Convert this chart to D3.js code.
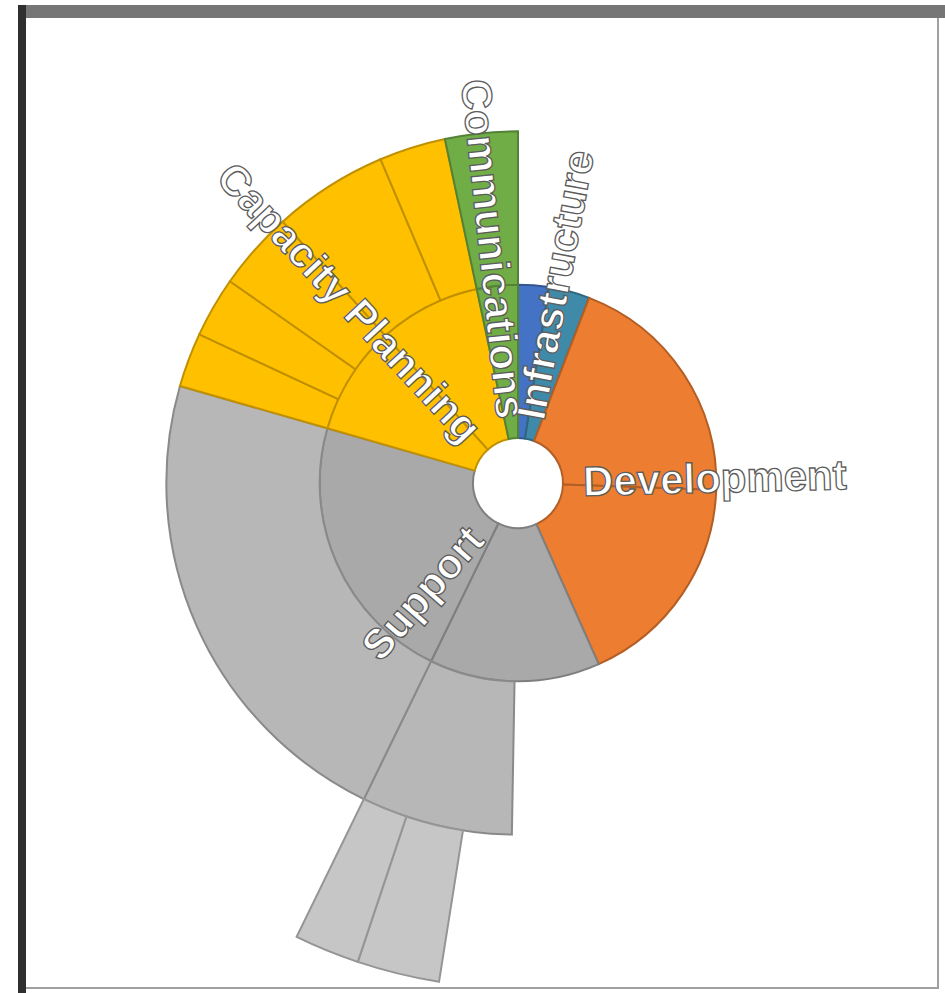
<!DOCTYPE html>
<html lang="en">
<head>
<meta charset="UTF-8">
<title>Sunburst</title>
<script src="https://d3js.org/d3.v7.min.js"></script>
<style>
  html, body { margin: 0; padding: 0; background: #fff; }
  svg { display: block; }
  .seg { stroke-width: 2px; }
  .label {
    font-family: "Liberation Sans", Arial, sans-serif;
    font-size: 42px; font-weight: bold;
    fill: #fff; stroke: #5c5c5c; stroke-width: 1.3px;
  }
</style>
</head>
<body>
<svg width="945" height="993"></svg>
<script>
// top-level groups, clockwise from 12 o'clock (angular share in degrees)
const groups = ["Infrastructure", "Development", "Support", "Capacity Planning", "Communications"];

// inner ring
const ring1 = [
  { id: "inf-a", parent: "Infrastructure", value: 9 },
  { id: "inf-b", parent: "Infrastructure", value: 12 },
  { id: "dev-a", parent: "Development", value: 71 },
  { id: "dev-b", parent: "Development", value: 64 },
  { id: "sup-a", parent: "Support" },
  { id: "sup-b", parent: "Support" },
  { id: "cap-a", parent: "Capacity Planning" },
  { id: "cap-b", parent: "Capacity Planning" },
  { id: "com-a", parent: "Communications" }
];

// middle ring (gap = empty slot)
const ring2 = [
  { id: "sup-a0", parent: "sup-a", value: 25, gap: true },
  { id: "sup-a1", parent: "sup-a" },
  { id: "sup-b1", parent: "sup-b", value: 80 },
  { id: "cap-a1", parent: "cap-a", value: 9 },
  { id: "cap-a2", parent: "cap-a", value: 10 },
  { id: "cap-a3", parent: "cap-a", value: 13 },
  { id: "cap-b1", parent: "cap-b", value: 19 },
  { id: "cap-b2", parent: "cap-b", value: 11 },
  { id: "com-a1", parent: "com-a", value: 12 }
];

// outer ring
const ring3 = [
  { id: "sup-a10", parent: "sup-a1", value: 8, gap: true },
  { id: "sup-a11", parent: "sup-a1", value: 9.5 },
  { id: "sup-a12", parent: "sup-a1", value: 7.5 }
];

// styles
const groupColor = {
  "Infrastructure": "#4472C4",
  "Development": "#ED7D31",
  "Support": "#A6A6A6",
  "Capacity Planning": "#FFC000",
  "Communications": "#70AD47"
};
const idColor = { "inf-b": "#3F8AA8" };
const supportShade = ["#A9A9A9", "#B7B7B7", "#C6C6C6"];

const svg = d3.select("svg");
const cx = 518, cy = 483;

// frame
svg.append("rect").attr("x", 22).attr("y", 10).attr("width", 916).attr("height", 978)
  .attr("fill", "#fff").attr("stroke", "#a0a0a0").attr("stroke-width", 2);
svg.append("rect").attr("x", 18).attr("y", 5).attr("width", 927).attr("height", 13).attr("fill", "#767676");
svg.append("rect").attr("x", 18).attr("y", 5).attr("width", 8).attr("height", 988).attr("fill", "#2f2f2f");

const rows = [{ id: "root" }]
  .concat(groups.map(g => ({ id: g, parent: "root" })))
  .concat(ring1, ring2, ring3);

const root = d3.stratify().id(d => d.id).parentId(d => d.parent)(rows)
  .sum(d => d.value || 0);

d3.partition().size([2 * Math.PI, root.height + 1])(root);

const radius = d3.scaleLinear().domain([2, 5]).range([45, 505]);

const arc = d3.arc()
  .startAngle(d => d.x0)
  .endAngle(d => d.x1)
  .innerRadius(d => radius(d.y0))
  .outerRadius(d => radius(d.y1));

function groupOf(d) { return d.ancestors().find(a => a.depth === 1).id; }
function fillOf(d) {
  if (idColor[d.id]) return idColor[d.id];
  const g = groupOf(d);
  if (g === "Support") return supportShade[d.depth - 2];
  return groupColor[g];
}

const g = svg.append("g").attr("transform", `translate(${cx},${cy})`);

g.selectAll("path")
  .data(root.descendants().filter(d => d.depth >= 2 && !d.data.gap))
  .join("path")
  .attr("class", "seg")
  .attr("d", arc)
  .attr("fill", d => fillOf(d))
  .attr("stroke", d => d3.color(fillOf(d)).darker(0.8));

// group labels, radial, from the hole outward
const labelStart = 65;
g.selectAll("text")
  .data(root.children)
  .join("text")
  .attr("class", "label")
  .attr("dy", "0.35em")
  .attr("transform", d => {
    const deg = (d.x0 + d.x1) / 2 * 180 / Math.PI;
    return deg > 180
      ? `rotate(${deg - 90}) translate(${labelStart},0) rotate(180)`
      : `rotate(${deg - 90}) translate(${labelStart},0)`;
  })
  .attr("text-anchor", d => ((d.x0 + d.x1) / 2 * 180 / Math.PI > 180 ? "end" : "start"))
  .text(d => d.id);
</script>
</body>
</html>
